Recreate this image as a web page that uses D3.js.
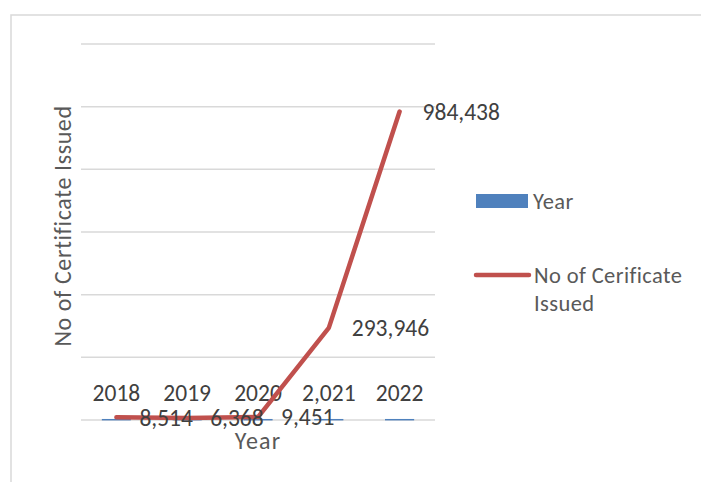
<!DOCTYPE html>
<html lang="en">
<head>
    <meta charset="UTF-8">
    <title>No of Certificate Issued</title>
    <script src="https://d3js.org/d3.v7.min.js"></script>
    <style>
        body {
            margin: 0;
            background: #fff;
            font-family: Carlito, Lato, "Open Sans", sans-serif;
        }
        svg { display: block; }
    </style>
</head>
<body>
    <svg width="701" height="482"></svg>
    <script>
        // Data
        const categories = ["2018", "2019", "2020", "2021", "2022"];
        const yearValues = [2018, 2019, 2020, 2021, 2022];
        const yearLabels = ["2018", "2019", "2020", "2,021", "2022"];
        const certValues = [8514, 6368, 9451, 293946, 984438];
        const yTicks = [0, 200000, 400000, 600000, 800000, 1000000, 1200000];

        const svg = d3.select("svg");

        // Plot area
        const plot = { left: 81, right: 435, top: 44, bottom: 420 };

        // Outer chart border
        svg.append("rect")
            .attr("x", 11)
            .attr("y", 15)
            .attr("width", 720)
            .attr("height", 500)
            .attr("fill", "none")
            .attr("stroke", "#d9d9d9")
            .attr("stroke-width", 1.5);

        const x = d3.scaleBand()
            .domain(categories)
            .range([plot.left, plot.right])
            .paddingInner(0.6)
            .paddingOuter(0.3);

        const xc = d => x(d) + x.bandwidth() / 2;

        const y = d3.scaleLinear()
            .domain([0, 1200000])
            .range([plot.bottom, plot.top]);

        // Gridlines
        svg.append("g")
            .selectAll("line")
            .data(yTicks)
            .join("line")
            .attr("x1", plot.left)
            .attr("x2", plot.right)
            .attr("y1", d => y(d))
            .attr("y2", d => y(d))
            .attr("stroke", "#d9d9d9")
            .attr("stroke-width", 1.5);

        // Year bars (tiny at this scale)
        svg.append("g")
            .selectAll("rect")
            .data(yearValues)
            .join("rect")
            .attr("x", (d, i) => x(categories[i]))
            .attr("y", d => y(d))
            .attr("width", x.bandwidth())
            .attr("height", d => y(0) - y(d))
            .attr("fill", "#4f81bd")
            .attr("stroke", "#4f81bd")
            .attr("stroke-width", 0.8);

        // Year labels above bars
        svg.append("g")
            .selectAll("text")
            .data(yearValues)
            .join("text")
            .attr("x", (d, i) => xc(categories[i]))
            .attr("y", d => y(d) - 18)
            .attr("text-anchor", "middle")
            .attr("fill", "#404040")
            .style("font-size", "23.5px")
            .text((d, i) => yearLabels[i]);

        // Certificate line
        const line = d3.line()
            .x((d, i) => xc(categories[i]))
            .y(d => y(d));

        svg.append("path")
            .datum(certValues)
            .attr("fill", "none")
            .attr("stroke", "#c0504d")
            .attr("stroke-width", 4.5)
            .attr("stroke-linejoin", "round")
            .attr("stroke-linecap", "round")
            .attr("d", line);

        // Line labels (right of points)
        svg.append("g")
            .selectAll("text")
            .data(certValues)
            .join("text")
            .attr("x", (d, i) => xc(categories[i]) + 23)
            .attr("y", d => y(d))
            .attr("dy", "0.35em")
            .attr("fill", "#404040")
            .style("font-size", "23.5px")
            .text(d => d3.format(",")(d));

        // Axis titles
        svg.append("text")
            .attr("x", 258)
            .attr("y", 449)
            .attr("text-anchor", "middle")
            .attr("fill", "#595959")
            .style("font-size", "24px")
            .style("letter-spacing", "1.2px")
            .text("Year");

        svg.append("text")
            .attr("transform", "translate(71,226) rotate(-90)")
            .attr("text-anchor", "middle")
            .attr("fill", "#595959")
            .style("font-size", "24px")
            .style("letter-spacing", "0.6px")
            .text("No of Certificate Issued");

        // Legend
        const legend = svg.append("g");
        legend.append("rect")
            .attr("x", 476)
            .attr("y", 194)
            .attr("width", 52)
            .attr("height", 14)
            .attr("fill", "#4f81bd");
        legend.append("text")
            .attr("x", 533)
            .attr("y", 201)
            .attr("dy", "0.35em")
            .attr("fill", "#595959")
            .style("font-size", "22.5px")
            .style("letter-spacing", "0.4px")
            .text("Year");

        legend.append("line")
            .attr("x1", 476)
            .attr("x2", 529)
            .attr("y1", 275)
            .attr("y2", 275)
            .attr("stroke", "#c0504d")
            .attr("stroke-width", 4.5)
            .attr("stroke-linecap", "round");
        legend.append("text")
            .attr("x", 534)
            .attr("y", 275)
            .attr("dy", "0.35em")
            .attr("fill", "#595959")
            .style("font-size", "22.5px")
            .style("letter-spacing", "0.4px")
            .text("No of Cerificate");
        legend.append("text")
            .attr("x", 534)
            .attr("y", 303)
            .attr("dy", "0.35em")
            .attr("fill", "#595959")
            .style("font-size", "22.5px")
            .style("letter-spacing", "0.4px")
            .text("Issued");
    </script>
</body>
</html>
